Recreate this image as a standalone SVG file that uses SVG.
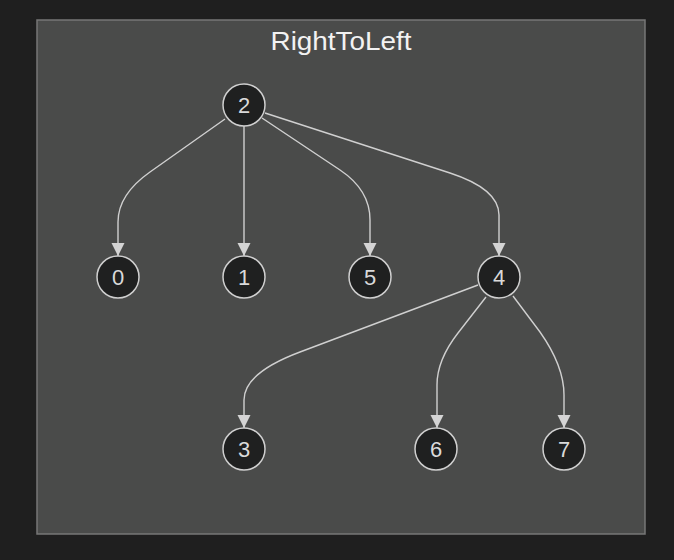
<svg xmlns="http://www.w3.org/2000/svg" width="674" height="560" viewBox="0 0 674 560">
<style>
.node circle{fill:#1f2020;stroke:#cfcfcf;stroke-width:1.5}
.node text{fill:#dadada;font-family:"Liberation Sans",Arial,sans-serif;font-size:22px;text-anchor:middle}
.edge{fill:none;stroke:#d0d0d0;stroke-width:1.4;marker-end:url(#arr)}
</style>
<defs>
<marker id="arr" markerUnits="userSpaceOnUse" markerWidth="14" markerHeight="14" refX="13" refY="7" orient="auto">
<path d="M0,0.5 L13,7 L0,13.5 z" fill="#d4d4d4"/>
</marker>
</defs>
<rect x="0" y="0" width="674" height="560" fill="#1f1f1f"/>
<g id="cluster">
<rect x="37" y="20" width="608" height="514" fill="#4a4b4a" stroke="#777" stroke-width="1.5"/>
<text x="341" y="50" fill="#f2f2f2" font-family="'Liberation Sans',Arial,sans-serif" font-size="26" text-anchor="middle" textLength="141" lengthAdjust="spacingAndGlyphs">RightToLeft</text>
</g>
<g id="connectors">
<path class="edge" d="M225,119 L150,172 Q118,194.5 118,222 L118,256"/>
<path class="edge" d="M244,126 L244,256"/>
<path class="edge" d="M262,118 L340,170 Q370,190 370,220 L370,256"/>
<path class="edge" d="M265,113 L450,173 Q499,189 499,215 L499,256"/>
<path class="edge" d="M478,285 L300,352 Q244,373 244,400 L244,428"/>
<path class="edge" d="M486,297 L458,333 Q437,360 437,385 L437,428"/>
<path class="edge" d="M513,296 L540,332 Q564,366 564,395 L564,428"/>
</g>
<g id="n2" class="node"><circle cx="244" cy="105" r="21"/><text x="244" y="113">2</text></g>
<g id="n0" class="node"><circle cx="118" cy="277" r="21"/><text x="118" y="285">0</text></g>
<g id="n1" class="node"><circle cx="244" cy="277" r="21"/><text x="244" y="285">1</text></g>
<g id="n5" class="node"><circle cx="370" cy="277" r="21"/><text x="370" y="285">5</text></g>
<g id="n4" class="node"><circle cx="499" cy="277" r="21"/><text x="499" y="285">4</text></g>
<g id="n3" class="node"><circle cx="244" cy="449" r="21"/><text x="244" y="457">3</text></g>
<g id="n6" class="node"><circle cx="436" cy="449" r="21"/><text x="436" y="457">6</text></g>
<g id="n7" class="node"><circle cx="564" cy="449" r="21"/><text x="564" y="457">7</text></g>
</svg>
